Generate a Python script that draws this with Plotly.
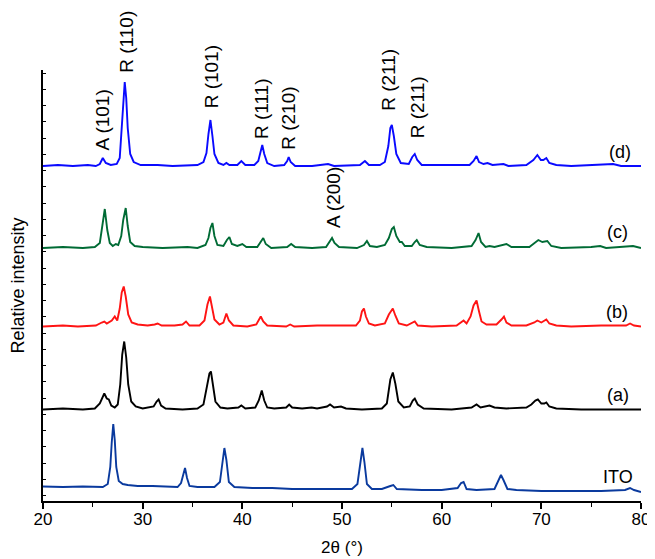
import plotly.graph_objects as go

# ---- Data (2θ in degrees, intensity in arbitrary units above each pattern's baseline)
pattern_d = [(20.0,0),(21.5,1),(23,0),(24.5,1),(25.3,0),(25.7,2),(26.0,8),(26.3,3),(26.8,1),(27.4,2),(27.7,8),(27.9,40),(28.05,72),(28.2,84),(28.35,68),(28.5,38),(28.75,12),(29.1,4),(29.8,1),(31.5,1),(33,0),(35.5,1),(36.1,4),(36.4,13),(36.6,32),(36.8,46),(37.0,30),(37.2,12),(37.6,3),(38.1,1),(38.4,3),(38.7,1),(39.5,1),(39.9,5),(40.3,1),(41.2,1),(41.6,5),(41.85,16),(42.0,21),(42.2,12),(42.5,3),(43.2,0),(44.2,1),(44.5,5),(44.65,9),(44.85,4),(45.3,0),(47,0),(48.6,2),(49.2,0),(51.8,1),(52.3,5),(52.7,1),(53.8,1),(54.3,4),(54.65,20),(54.85,38),(55.0,41),(55.2,30),(55.45,12),(55.9,3),(56.7,2),(57.05,9),(57.3,12),(57.55,6),(58.0,1),(60,1),(62.8,1),(63.2,5),(63.5,10),(63.75,4),(64.2,2),(64.6,3),(65.1,1),(66.2,2),(66.7,0),(68.5,1),(69.2,6),(69.6,11),(69.95,6),(70.2,6),(70.5,8),(70.8,3),(71.5,1),(73,0),(75,1),(77.2,2),(78,0),(80,0)]

pattern_c = [(20,0),(22,1),(24,0),(25.2,1),(25.7,5),(25.95,20),(26.2,39),(26.45,18),(26.7,5),(27.0,2),(27.3,4),(27.55,3),(27.85,12),(28.05,28),(28.3,40),(28.5,22),(28.75,6),(29.2,2),(30,1),(32,0),(34.5,1),(35.5,0),(36.3,3),(36.6,10),(36.8,20),(37.0,25),(37.2,12),(37.5,3),(38.1,2),(38.45,8),(38.7,11),(38.95,4),(39.5,2),(40.0,4),(40.4,1),(41.5,1),(41.85,6),(42.1,10),(42.35,4),(42.9,0),(44.5,1),(44.9,4),(45.3,1),(47,0),(48.4,1),(48.75,6),(49.0,10),(49.25,5),(49.7,1),(51.5,0),(52.2,3),(52.5,7),(52.8,2),(53.5,1),(54.3,3),(54.7,10),(55.0,19),(55.2,21),(55.45,12),(55.8,6),(56.0,6),(56.3,2),(57.0,2),(57.3,6),(57.5,8),(57.8,3),(58.5,1),(61,0),(63.0,2),(63.4,8),(63.7,15),(63.95,6),(64.4,1),(64.8,2),(65.3,1),(66.5,4),(67,1),(68.8,1),(69.3,5),(69.7,8),(70.1,6),(70.6,7),(71.0,2),(72,0),(75.0,1),(75.9,2),(76.5,0),(77.5,1),(79.2,2),(80,0)]

pattern_b = [(20,0),(22,1),(23.5,0),(25.3,1),(25.9,4),(26.15,5),(26.4,3),(26.9,6),(27.2,10),(27.45,6),(27.7,18),(27.9,34),(28.1,40),(28.3,30),(28.55,12),(28.9,4),(29.5,2),(30.5,1),(31.2,2),(31.5,3),(31.9,1),(33.2,1),(34.0,2),(34.35,5),(34.7,1),(35.7,1),(36.2,6),(36.5,22),(36.75,30),(36.95,20),(37.2,7),(37.7,2),(38.1,4),(38.4,13),(38.65,6),(39.1,1),(40.5,0),(41.4,2),(41.65,7),(41.85,10),(42.1,5),(42.5,1),(44.4,0),(44.8,2),(45.2,0),(47.5,1),(51.4,1),(51.8,6),(52.0,15),(52.2,18),(52.4,10),(52.7,3),(53.3,1),(54.3,3),(54.7,12),(55.1,18),(55.35,11),(55.7,3),(56.5,1),(57.0,4),(57.3,5),(57.6,1),(59,0),(61.5,1),(62.2,6),(62.5,3),(62.9,10),(63.2,21),(63.5,26),(63.75,15),(64.0,5),(64.5,2),(65.5,2),(66.0,7),(66.25,10),(66.5,4),(67.0,1),(68.5,1),(69.3,4),(69.6,6),(70.0,4),(70.5,7),(70.8,3),(71.5,1),(73,0),(76,1),(78.5,1),(78.9,3),(79.3,1),(80,0)]

pattern_a = [(20,0),(22,1),(24,0),(25.2,1),(25.7,6),(26.0,14),(26.15,16),(26.4,11),(26.6,10),(26.85,4),(27.2,2),(27.5,5),(27.75,25),(27.95,55),(28.15,68),(28.35,52),(28.55,25),(28.85,8),(29.3,3),(30,1),(31.1,3),(31.4,8),(31.6,10),(31.85,4),(32.3,1),(34,0),(35.5,1),(36.1,5),(36.45,22),(36.7,36),(36.85,38),(37.05,25),(37.3,8),(37.8,2),(38.5,1),(39.6,2),(39.9,4),(40.3,1),(41.3,2),(41.65,9),(41.95,19),(42.2,9),(42.5,2),(43.2,1),(44.4,2),(44.7,5),(45.0,2),(46,1),(46.95,2),(47.5,1),(48.5,3),(48.8,5),(49.2,2),(49.9,3),(50.4,1),(52,0),(54,1),(54.5,6),(54.85,30),(55.1,37),(55.35,26),(55.65,8),(56.2,2),(56.8,3),(57.1,9),(57.3,11),(57.6,5),(58.2,1),(61,0),(63,2),(63.5,5),(63.9,2),(64.4,3),(64.8,4),(65.3,2),(66.5,1),(68.5,2),(69.0,5),(69.4,9),(69.65,10),(70.0,6),(70.3,6),(70.5,7),(70.8,3),(71.5,1),(74,0),(80,0)]

pattern_ito = [(20,5.5),(22,5),(24,5.5),(26,5),(26.5,8),(26.75,25),(26.9,50),(27.05,68),(27.2,52),(27.35,25),(27.6,11),(28,8),(28.5,7),(29.5,6),(31,6),(32.5,5),(33.5,5),(33.85,9),(34.1,20),(34.25,24),(34.45,14),(34.7,6),(35.5,5),(37.2,5),(37.75,10),(38.0,30),(38.2,44),(38.4,32),(38.65,10),(39.2,5),(41,4),(43,4),(45,3),(47,3),(49,3),(51,3),(51.55,8),(51.85,32),(52.05,44),(52.25,30),(52.5,8),(53.0,3),(54,3),(54.85,6),(55.15,7),(55.5,3),(58,2),(60,2),(61.6,4),(61.95,9),(62.2,10),(62.5,3),(63.5,2),(65.3,3),(65.7,12),(65.95,17),(66.2,12),(66.6,3),(67.5,2),(70,1),(73,1),(76,1),(78.4,2),(78.9,4),(79.3,2),(80,0)]

series_names = ["(d)", "(c)", "(b)", "(a)", "ITO"]
series_data = [pattern_d, pattern_c, pattern_b, pattern_a, pattern_ito]
series_offsets = [335, 253, 174.5, 91.5, 9]
series_colors = ["#0a0aff", "#006b35", "#ff1414", "#000000", "#0a3a9e"]

peak_labels = ["A (101)", "R (110)", "R (101)", "R (111)", "R (210)", "A (200)", "R (211)", "R (211)"]
peak_label_x = [25.97, 28.4, 36.86, 42.0, 44.68, 49.1, 54.71, 57.55]
peak_label_y = [0.884, 1.065, 0.983, 0.91, 0.889, 0.703, 0.977, 0.914]

sample_label_x = [77.9, 77.6, 77.6, 77.7, 77.7]
sample_label_y = [349, 269.3, 189.3, 106, 24.3]

FONT = "Liberation Sans, Arial, Helvetica, sans-serif"

fig = go.Figure()
for name, data, off, col in zip(series_names, series_data, series_offsets, series_colors):
    xs = [p[0] for p in data]
    ys = [p[1] + off for p in data]
    fig.add_trace(go.Scatter(x=xs, y=ys, mode="lines", name=name,
                             line=dict(color=col, width=1.9), showlegend=False))

for txt, x, y in zip(peak_labels, peak_label_x, peak_label_y):
    fig.add_annotation(text=txt, x=x, y=y, xref="x", yref="paper", textangle=-90,
                       showarrow=False, font=dict(family=FONT, size=19, color="black"),
                       xanchor="center", yanchor="middle")

for txt, x, y in zip(series_names, sample_label_x, sample_label_y):
    fig.add_annotation(text=txt, x=x, y=y, xref="x", yref="y", showarrow=False,
                       font=dict(family=FONT, size=18, color="black"),
                       xanchor="center", yanchor="middle")

# The page body adds an 8 px offset, so the figure is sized to fit the window.
fig.update_layout(
    width=647, height=551,
    margin=dict(l=35, r=14, t=62, b=58, autoexpand=False),
    paper_bgcolor="white", plot_bgcolor="white",
    font=dict(family=FONT, color="black"),
    xaxis=dict(range=[20, 80], showline=True, linecolor="black", linewidth=1.8,
               ticks="outside", ticklen=6, tickwidth=1.5, tickcolor="black",
               dtick=10, tick0=20, showgrid=False, zeroline=False, automargin=False,
               ticklabelstandoff=-4,
               minor=dict(ticks="outside", ticklen=4, tickwidth=1.2, dtick=5, tickcolor="black", showgrid=False),
               tickfont=dict(size=17, family=FONT),
               title=dict(text="2θ (°)", font=dict(size=17, family=FONT), standoff=13)),
    yaxis=dict(range=[0, 431], showline=True, linecolor="black", linewidth=1.8,
               ticks="inside", ticklen=3, tickwidth=1, tickcolor="black",
               tick0=5.3, dtick=16.25, showticklabels=False, showgrid=False, zeroline=False,
               automargin=False,
               title=dict(text="Relative intensity", font=dict(size=18, family=FONT), standoff=14)),
)

fig.write_html("out.html")
